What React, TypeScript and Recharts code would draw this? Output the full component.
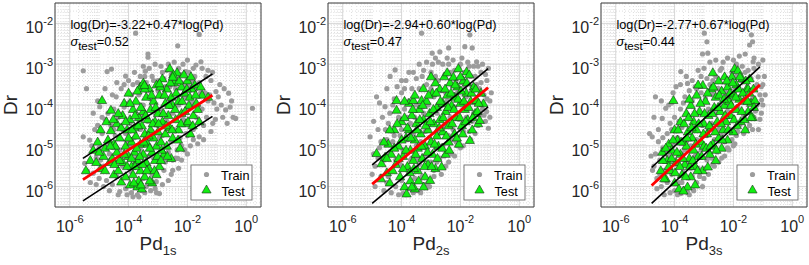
import React from 'react';
import { ScatterChart, Scatter, XAxis, YAxis, CartesianGrid, ReferenceArea } from 'recharts';

// every point: [log10(Pd), log10(Dr)]
type LP = [number, number];

const train1: LP[] = [
  [-5.54,-3.16],[-5.43,-3.6],[-5.54,-4.78],[-5.49,-5.43],[-5.4,-5.62],[-5.32,-4.86],[-5.2,-4.2],[-5.2,-5.67],[-5.1,-5.3],[-5.05,-4.5],[-5.0,-5.05],[-5.0,-5.8],
  [-4.98,-4.04],[-4.9,-4.7],[-4.85,-5.5],[-4.8,-4.35],[-4.75,-5.85],[-4.73,-3.18],[-4.7,-4.95],[-4.65,-5.2],[-4.6,-4.5],[-4.58,-3.12],[-4.55,-5.95],[-4.5,-4.1],[-4.5,-5.45],
  [-4.45,-4.75],[-4.42,-3.8],[-4.4,-5.75],[-4.35,-4.3],[-4.3,-6.12],[-4.3,-5.1],[-4.25,-3.6],[-4.2,-4.6],[-4.2,-5.5],[-4.15,-4.05],[-4.1,-3.29],[-4.1,-6.05],[-4.05,-4.9],[-4.0,-5.3],[-4.0,-3.95],
  [-3.95,-4.45],[-3.9,-6.15],[-3.9,-5.65],[-3.85,-3.5],[-3.8,-4.8],[-3.8,-5.95],[-3.76,-2.24],[-3.75,-4.2],[-3.7,-6.2],[-3.7,-5.45],[-3.65,-3.75],[-3.6,-5.05],[-3.6,-4.6],[-3.55,-6.1],[-3.5,-4.0],[-3.5,-5.8],
  [-3.45,-3.3],[-3.43,-3.17],[-3.4,-4.85],[-3.4,-6.0],[-3.35,-4.4],[-3.34,-2.75],[-3.34,-2.83],[-3.3,-5.25],[-3.25,-3.85],[-3.2,-5.7],[-3.2,-4.65],[-3.15,-3.4],[-3.1,-4.2],[-3.1,-6.05],[-3.06,-5.88],[-3.05,-5.0],[-3.0,-3.65],[-3.0,-4.5],
  [-2.95,-6.17],[-2.95,-5.4],[-2.9,-4.1],[-2.85,-3.2],[-2.85,-4.75],[-2.8,-5.6],[-2.75,-3.55],[-2.7,-4.4],[-2.65,-3.0],[-2.65,-5.15],[-2.6,-3.85],[-2.55,-4.9],[-2.55,-5.7],[-2.5,-5.35],[-2.5,-3.4],[-2.5,-4.2],
  [-2.45,-4.6],[-2.4,-3.6],[-2.35,-5.1],[-2.33,-2.55],[-2.33,-5.31],[-2.3,-3.1],[-2.3,-4.0],[-2.25,-4.8],[-2.2,-5.0],[-2.2,-3.45],[-2.15,-4.35],[-2.1,-3.8],[-2.05,-3.18],[-2.05,-4.7],[-2.0,-4.1],[-2.0,-5.2],
  [-1.95,-3.55],[-1.9,-4.5],[-1.85,-3.95],[-1.8,-4.85],[-1.75,-3.3],[-1.71,-3.02],[-1.7,-4.3],[-1.6,-2.27],[-1.6,-4.78],[-1.55,-3.7],[-1.54,-2.94],[-1.5,-4.1],[-1.45,-4.5],[-1.37,-3.3],[-1.3,-3.9],[-1.2,-3.4],[-1.14,-4.45],[-1.03,-3.67],[-1.0,-4.1],
  [-0.9,-3.5],[-0.8,-4.3],[-0.7,-4.12],[-0.6,-3.71],[-0.5,-3.9],[-0.45,-4.3],[-0.36,-4.33],[0.21,-4.08],
  [-5.3,-5.9],[-5.25,-5.0],[-5.15,-4.6],[-5.1,-5.95],[-5.05,-3.9],[-4.95,-5.35],[-4.9,-4.3],[-4.85,-6.0],[-4.8,-3.6],[-4.7,-4.2],[-4.65,-6.1],[-4.55,-3.75],[-4.5,-4.6],[-4.4,-3.45],[-4.35,-6.2],[-4.3,-4.55],[-4.25,-5.9],[-4.15,-3.5],[-4.1,-4.7],[-4.05,-6.2],[-4.0,-3.4],[-3.95,-5.0],[-3.9,-3.75],[-3.85,-6.25],[-3.8,-3.2],[-3.75,-5.3],[-3.7,-3.45],[-3.65,-6.25],[-3.6,-3.3],[-3.55,-4.3],[-3.5,-3.05],[-3.45,-6.15],[-3.4,-3.45],[-3.35,-5.5],[-3.3,-3.1],[-3.25,-6.1],[-3.2,-3.3],[-3.15,-5.3],[-3.1,-3.0],[-3.05,-6.15],[-3.0,-3.4],[-2.95,-4.8],[-2.9,-3.05],[-2.85,-5.95],[-2.8,-3.35],[-2.75,-5.4],[-2.7,-3.15],[-2.65,-5.85],[-2.6,-3.55],[-2.55,-3.25],[-2.5,-5.6],[-2.45,-2.95],[-2.4,-5.3],[-2.35,-3.4],[-2.3,-5.55],[-2.25,-3.25],[-2.2,-5.35],[-2.15,-3.0],[-2.1,-5.1],[-2.05,-3.55],[-2.0,-4.75],[-1.95,-3.2],[-1.9,-5.0],[-1.85,-3.4],[-1.8,-4.6],[-1.75,-4.0],[-1.7,-3.6],[-1.65,-4.95],[-1.6,-3.45],[-1.5,-3.1],[-1.45,-4.85],[-1.4,-3.7],[-1.35,-4.3],[-1.25,-3.75],[-1.2,-4.65],[-1.1,-3.95],[-1.05,-4.35],[-0.95,-3.8],[-0.85,-4.0],[-0.75,-3.6],[-0.65,-4.45],[-0.55,-4.05],[-1.3,-3.15],[-1.15,-3.2],[-2.0,-2.9],[-1.8,-3.1],
];

const test1: LP[] = [
  [-5.45,-5.6],[-5.3,-5.35],[-5.2,-5.1],[-5.05,-4.9],[-4.95,-5.55],[-4.9,-3.88],[-4.85,-5.25],[-4.8,-5.05],[-4.7,-4.85],[-4.65,-5.4],[-4.6,-4.12],[-4.6,-4.62],[-4.55,-5.3],[-4.5,-4.95],[-4.5,-5.7],
  [-4.4,-4.45],[-4.4,-5.15],[-4.35,-5.6],[-4.3,-4.8],[-4.25,-5.88],[-4.2,-4.25],[-4.2,-5.4],[-4.15,-3.95],[-4.1,-5.0],[-4.1,-5.75],[-4.05,-4.6],[-4.0,-3.7],[-4.0,-5.25],[-3.95,-4.35],[-3.95,-5.95],[-3.9,-4.9],[-3.9,-5.5],[-3.85,-4.1],[-3.85,-5.7],[-3.8,-4.55],[-3.8,-5.15],
  [-3.75,-3.9],[-3.75,-4.75],[-3.7,-5.35],[-3.7,-6.0],[-3.65,-4.3],[-3.65,-5.85],[-3.6,-3.55],[-3.6,-4.95],[-3.6,-5.6],[-3.55,-4.5],[-3.55,-6.05],[-3.5,-3.45],[-3.5,-4.15],[-3.5,-5.2],[-3.45,-4.7],[-3.45,-5.75],[-3.4,-3.8],[-3.4,-5.4],[-3.35,-4.35],[-3.35,-4.95],[-3.3,-3.6],[-3.3,-5.55],[-3.25,-4.1],[-3.25,-4.6],[-3.2,-5.15],[-3.2,-5.9],[-3.15,-3.9],[-3.15,-4.8],[-3.1,-4.4],[-3.1,-5.35],[-3.05,-3.5],[-3.05,-5.0],
  [-3.0,-4.2],[-3.0,-4.65],[-2.95,-3.75],[-2.95,-5.5],[-2.9,-4.9],[-2.85,-3.35],[-2.85,-4.4],[-2.8,-5.2],[-2.75,-3.95],[-2.75,-4.7],[-2.7,-3.6],[-2.7,-5.0],[-2.65,-4.25],[-2.6,-3.1],[-2.6,-4.55],[-2.55,-3.8],[-2.55,-5.3],[-2.5,-4.0],[-2.5,-4.8],[-2.45,-3.45],[-2.4,-4.35],[-2.35,-3.2],[-2.3,-3.9],[-2.3,-4.6],[-2.25,-5.05],[-2.2,-3.55],[-2.2,-4.2],
  [-2.1,-3.7],[-2.05,-4.45],[-2.0,-3.4],[-1.95,-4.0],[-1.9,-4.7],[-1.85,-3.6],[-1.8,-4.25],[-1.75,-3.5],[-1.7,-3.95],[-1.6,-4.4],[-1.5,-3.75],[-1.3,-3.8],
  [-4.45,-5.0],[-4.35,-4.2],[-4.3,-5.35],[-4.25,-4.55],[-4.15,-5.2],[-4.1,-4.4],[-4.05,-5.5],[-4.0,-4.8],[-3.95,-3.95],[-3.9,-5.3],[-3.88,-4.6],[-3.82,-5.9],[-3.78,-4.25],[-3.72,-5.05],[-3.68,-4.5],[-3.62,-5.25],[-3.58,-4.05],[-3.52,-5.45],[-3.48,-4.9],[-3.42,-4.25],[-3.38,-5.6],[-3.32,-4.75],[-3.28,-5.05],[-3.22,-3.75],[-3.18,-4.45],[-3.12,-5.6],[-3.08,-4.05],[-3.02,-5.25],[-2.98,-4.45],[-2.92,-3.55],[-2.88,-5.1],[-2.82,-4.2],[-2.78,-3.75],[-2.72,-4.5],[-2.68,-5.25],[-2.62,-4.0],[-2.58,-3.45],[-2.52,-4.6],[-2.48,-3.25],[-2.42,-4.1],[-2.38,-3.7],[-2.32,-4.85],[-2.28,-3.4],[-2.22,-4.45],[-2.18,-3.9],[-2.12,-3.25],[-2.08,-4.15],[-2.02,-3.6],[-1.98,-4.4],[-1.92,-3.8],[-1.88,-3.3],[-1.82,-4.5],[-1.72,-3.75],[-1.65,-4.1],[-1.55,-3.55],[-4.75,-4.4],[-4.8,-5.6],[-4.62,-5.0],[-4.52,-4.35],[-4.48,-5.45],[-5.1,-5.4],[-5.0,-5.15],[-4.95,-4.6],[-3.78,-5.5],[-3.58,-5.95],[-3.28,-5.85],[-3.05,-5.7],[-2.9,-5.35],[-3.7,-3.65],[-3.45,-3.6],[-2.95,-3.47],[-2.5,-3.31],[-3.46,-3.51],
];

const train2: LP[] = [
  [-5.07,-4.78],[-4.95,-5.2],[-4.9,-5.5],[-4.85,-3.8],[-4.8,-4.6],[-4.75,-5.05],[-4.7,-5.75],[-4.65,-4.3],[-4.6,-5.35],[-4.56,-4.04],[-4.5,-4.85],[-4.5,-5.9],
  [-4.45,-4.45],[-4.4,-5.2],[-4.39,-3.3],[-4.35,-5.6],[-4.3,-4.0],[-4.25,-4.75],[-4.22,-3.14],[-4.2,-6.0],[-4.15,-5.0],[-4.1,-4.3],[-4.05,-5.45],[-4.0,-3.7],[-4.0,-4.6],[-4.0,-5.85],
  [-3.95,-6.17],[-3.9,-5.15],[-3.9,-4.1],[-3.85,-3.4],[-3.8,-4.85],[-3.8,-5.6],[-3.75,-3.9],[-3.7,-4.45],[-3.7,-6.05],[-3.65,-5.3],[-3.6,-3.2],[-3.6,-4.7],[-3.55,-5.8],[-3.5,-4.0],[-3.5,-5.0],
  [-3.45,-4.4],[-3.45,-6.1],[-3.4,-3.6],[-3.4,-5.45],[-3.35,-4.9],[-3.32,-2.24],[-3.3,-3.3],[-3.3,-5.75],[-3.25,-4.2],[-3.2,-4.65],[-3.2,-5.25],[-3.15,-3.5],[-3.1,-5.9],[-3.1,-4.0],[-3.05,-4.8],[-3.0,-3.2],[-3.0,-5.4],
  [-2.96,-2.73],[-2.95,-4.45],[-2.9,-3.8],[-2.9,-5.6],[-2.85,-2.85],[-2.85,-5.05],[-2.8,-4.2],[-2.75,-3.4],[-2.75,-4.7],[-2.7,-5.3],[-2.65,-3.65],[-2.6,-4.0],[-2.6,-5.0],[-2.55,-4.5],[-2.5,-3.25],[-2.5,-5.5],
  [-2.45,-3.9],[-2.4,-4.75],[-2.4,-3.0],[-2.35,-4.3],[-2.3,-5.2],[-2.3,-3.5],[-2.25,-4.6],[-2.2,-3.15],[-2.2,-4.05],[-2.15,-4.9],[-2.1,-3.7],[-2.05,-4.35],[-2.0,-3.0],[-2.0,-5.05],
  [-1.95,-3.45],[-1.9,-4.1],[-1.9,-4.65],[-1.85,-2.57],[-1.85,-3.2],[-1.8,-3.8],[-1.75,-4.4],[-1.7,-3.05],[-1.68,-2.28],[-1.65,-4.85],[-1.6,-3.55],[-1.55,-4.2],[-1.5,-3.3],
  [-1.45,-2.94],[-1.45,-3.95],[-1.4,-4.5],[-1.35,-3.6],[-1.3,-3.2],[-1.25,-4.1],[-1.2,-3.75],[-1.15,-4.4],[-1.11,-4.16],[-1.1,-3.4],[-1.05,-4.57],[-1.0,-3.9],
  [-5.0,-5.7],[-4.95,-4.4],[-4.9,-6.0],[-4.8,-5.3],[-4.75,-3.95],[-4.7,-4.9],[-4.6,-6.1],[-4.55,-4.6],[-4.5,-3.6],[-4.45,-5.75],[-4.4,-4.2],[-4.35,-6.15],[-4.3,-4.9],[-4.25,-3.85],[-4.2,-5.35],[-4.15,-3.55],[-4.1,-6.2],[-4.05,-4.75],[-4.0,-3.4],[-3.95,-5.1],[-3.9,-3.6],[-3.85,-6.2],[-3.8,-4.3],[-3.75,-3.2],[-3.7,-5.35],[-3.65,-3.6],[-3.6,-6.15],[-3.55,-4.3],[-3.5,-3.35],[-3.45,-5.3],[-3.4,-3.0],[-3.35,-6.15],[-3.3,-4.05],[-3.25,-3.15],[-3.2,-5.95],[-3.15,-2.95],[-3.1,-4.5],[-3.05,-6.0],[-3.0,-3.6],[-2.95,-3.0],[-2.9,-5.75],[-2.85,-3.3],[-2.8,-5.4],[-2.75,-2.95],[-2.7,-4.0],[-2.65,-5.7],[-2.6,-3.0],[-2.55,-5.25],[-2.5,-3.7],[-2.45,-2.85],[-2.4,-5.4],[-2.35,-3.2],[-2.3,-4.85],[-2.25,-2.9],[-2.2,-5.25],[-2.15,-3.4],[-2.1,-5.0],[-2.05,-3.1],[-2.0,-4.6],[-1.95,-2.85],[-1.9,-5.0],[-1.85,-3.55],[-1.8,-4.3],[-1.75,-2.95],[-1.7,-4.65],[-1.65,-3.3],[-1.6,-4.4],[-1.55,-3.05],[-1.5,-4.7],[-1.45,-3.5],[-1.4,-3.05],[-1.35,-4.25],[-1.3,-3.45],[-1.25,-3.0],[-1.2,-4.25],[-1.15,-3.25],[-1.1,-3.85],[-1.05,-3.1],[-1.0,-4.3],[-0.95,-3.7],[-2.4,-2.6],[-2.7,-2.7],[-1.6,-2.6],
];

const test2: LP[] = [
  [-4.85,-5.18],[-4.68,-5.43],[-4.56,-5.27],[-4.5,-5.65],[-4.45,-4.95],[-4.4,-5.9],[-4.35,-5.2],
  [-4.25,-4.6],[-4.2,-5.45],[-4.17,-3.88],[-4.17,-4.12],[-4.1,-5.0],[-4.05,-5.75],[-4.0,-4.4],[-3.95,-5.25],[-3.9,-6.0],[-3.85,-4.8],[-3.83,-6.17],[-3.8,-5.5],
  [-3.75,-3.95],[-3.75,-4.6],[-3.7,-5.1],[-3.7,-5.85],[-3.65,-4.25],[-3.6,-5.35],[-3.6,-3.88],[-3.55,-4.85],[-3.55,-6.05],[-3.5,-4.45],[-3.45,-5.6],[-3.45,-5.05],[-3.4,-4.1],[-3.35,-4.7],[-3.32,-3.88],[-3.3,-5.3],
  [-3.26,-3.59],[-3.25,-4.35],[-3.2,-5.0],[-3.2,-5.75],[-3.15,-3.9],[-3.1,-4.6],[-3.1,-5.45],[-3.05,-4.2],[-3.03,-5.84],[-3.0,-4.9],[-2.95,-3.7],[-2.95,-5.2],[-2.9,-4.45],[-2.85,-3.45],[-2.85,-5.55],[-2.8,-4.05],[-2.8,-4.75],
  [-2.75,-5.0],[-2.7,-3.6],[-2.7,-4.35],[-2.64,-5.51],[-2.6,-3.95],[-2.6,-4.65],[-2.55,-3.3],[-2.5,-5.2],[-2.5,-4.15],[-2.45,-3.75],[-2.4,-4.5],[-2.4,-4.9],[-2.35,-3.45],[-2.3,-4.0],
  [-2.24,-3.31],[-2.2,-4.7],[-2.2,-3.8],[-2.15,-4.3],[-2.1,-3.55],[-2.07,-3.1],[-2.05,-4.95],[-2.0,-3.95],[-1.95,-4.5],[-1.9,-3.4],[-1.85,-4.1],[-1.8,-3.7],[-1.79,-3.18],
  [-1.75,-4.35],[-1.7,-3.25],[-1.68,-4.86],[-1.65,-3.9],[-1.6,-4.6],[-1.55,-3.55],[-1.5,-4.2],[-1.45,-3.88],[-1.4,-4.45],[-1.34,-4.37],[-1.3,-3.7],[-1.22,-3.96],
  [-4.6,-4.9],[-4.5,-5.3],[-4.4,-4.6],[-4.3,-5.6],[-4.25,-5.05],[-4.15,-4.45],[-4.1,-5.3],[-4.0,-4.85],[-3.95,-5.55],[-3.9,-4.3],[-3.85,-5.1],[-3.8,-4.55],[-3.72,-5.65],[-3.68,-4.8],[-3.62,-4.1],[-3.58,-5.55],[-3.52,-5.2],[-3.48,-4.6],[-3.42,-5.85],[-3.38,-4.35],[-3.32,-5.0],[-3.28,-4.0],[-3.22,-5.5],[-3.18,-4.5],[-3.12,-5.15],[-3.08,-3.75],[-3.02,-4.4],[-2.98,-5.5],[-2.92,-4.1],[-2.88,-4.95],[-2.82,-3.7],[-2.78,-5.3],[-2.72,-4.55],[-2.68,-3.9],[-2.62,-5.05],[-2.58,-4.3],[-2.52,-3.6],[-2.48,-4.75],[-2.42,-4.05],[-2.38,-5.1],[-2.32,-3.7],[-2.28,-4.45],[-2.22,-4.1],[-2.18,-3.5],[-2.12,-4.8],[-2.08,-3.85],[-2.02,-4.3],[-1.98,-3.65],[-1.92,-4.7],[-1.88,-3.9],[-1.82,-4.4],[-1.78,-3.45],[-1.72,-4.05],[-1.62,-3.7],[-1.58,-4.3],[-1.48,-3.6],[-1.42,-4.15],[-1.38,-3.95],[-3.9,-3.9],[-3.55,-3.75],[-3.0,-3.3],[-2.45,-3.2],[-2.0,-3.3],[-4.7,-5.8],[-3.65,-6.0],[-3.25,-6.0],
];

const train3: LP[] = [
  [-4.76,-4.78],[-4.7,-5.5],[-4.65,-3.8],[-4.65,-5.2],[-4.6,-5.8],[-4.55,-4.9],[-4.5,-5.35],[-4.45,-6.0],[-4.42,-4.33],[-4.4,-5.05],[-4.35,-5.6],[-4.3,-4.08],
  [-4.25,-4.7],[-4.25,-5.9],[-4.2,-5.25],[-4.15,-4.45],[-4.1,-5.7],[-4.1,-3.95],[-4.05,-5.0],[-4.0,-6.1],[-4.0,-4.3],[-3.95,-5.45],[-3.9,-4.8],[-3.85,-5.9],[-3.8,-4.1],[-3.79,-3.18],[-3.79,-6.17],
  [-3.75,-5.2],[-3.75,-4.55],[-3.7,-5.65],[-3.65,-3.8],[-3.65,-6.05],[-3.6,-4.9],[-3.56,-3.47],[-3.55,-5.4],[-3.5,-4.3],[-3.5,-6.2],[-3.45,-5.0],[-3.4,-3.9],[-3.4,-5.75],[-3.35,-4.6],[-3.3,-5.25],
  [-3.25,-3.6],[-3.25,-4.85],[-3.2,-5.55],[-3.15,-4.2],[-3.1,-5.1],[-3.1,-3.3],[-3.05,-4.5],[-3.0,-5.8],[-2.99,-2.24],[-2.95,-3.85],[-2.9,-4.75],[-2.9,-5.35],[-2.87,-2.73],[-2.85,-4.1],[-2.8,-5.0],[-2.8,-3.5],
  [-2.75,-4.45],[-2.7,-5.45],[-2.7,-3.75],[-2.65,-4.85],[-2.6,-3.3],[-2.6,-4.2],[-2.55,-5.15],[-2.5,-3.6],[-2.5,-4.6],[-2.45,-4.0],[-2.4,-5.3],[-2.4,-3.1],[-2.35,-4.4],[-2.3,-4.9],
  [-2.25,-3.45],[-2.2,-4.15],[-2.2,-5.05],[-2.15,-3.8],[-2.1,-4.6],[-2.05,-3.2],[-2.0,-4.3],[-2.0,-5.0],[-1.95,-3.65],[-1.9,-4.75],[-1.9,-3.0],[-1.85,-4.05],[-1.8,-4.5],
  [-1.75,-3.4],[-1.7,-3.9],[-1.65,-4.7],[-1.6,-3.2],[-1.55,-4.2],[-1.5,-3.6],[-1.45,-2.53],[-1.45,-4.5],[-1.39,-2.28],[-1.35,-3.85],[-1.33,-2.94],[-1.3,-3.1],[-1.3,-4.3],[-1.25,-3.6],[-1.2,-4.0],[-1.16,-3.31],[-1.15,-4.6],[-1.1,-3.75],[-1.04,-3.88],[-1.0,-3.5],[-1.05,-4.2],
  [-4.75,-5.6],[-4.7,-4.3],[-4.6,-6.05],[-4.55,-4.6],[-4.5,-5.7],[-4.45,-3.9],[-4.4,-4.8],[-4.35,-6.2],[-4.3,-5.2],[-4.2,-4.0],[-4.15,-6.15],[-4.1,-4.6],[-4.05,-3.7],[-4.0,-5.4],[-3.95,-3.55],[-3.9,-6.2],[-3.85,-4.4],[-3.8,-3.5],[-3.75,-5.9],[-3.7,-3.95],[-3.65,-5.1],[-3.6,-3.3],[-3.55,-6.15],[-3.5,-3.65],[-3.45,-5.55],[-3.4,-3.4],[-3.35,-6.1],[-3.3,-3.55],[-3.25,-5.9],[-3.2,-3.15],[-3.15,-5.75],[-3.1,-3.7],[-3.05,-6.0],[-3.0,-3.1],[-2.95,-5.55],[-2.9,-3.35],[-2.85,-5.7],[-2.8,-2.95],[-2.75,-5.3],[-2.7,-3.4],[-2.65,-5.5],[-2.6,-2.9],[-2.55,-3.6],[-2.5,-5.4],[-2.45,-3.15],[-2.4,-4.75],[-2.35,-2.95],[-2.3,-5.25],[-2.25,-3.7],[-2.2,-2.85],[-2.15,-5.1],[-2.1,-3.35],[-2.05,-4.85],[-2.0,-2.9],[-1.95,-4.95],[-1.9,-3.3],[-1.85,-4.65],[-1.8,-2.8],[-1.75,-4.45],[-1.7,-3.05],[-1.65,-4.25],[-1.6,-2.75],[-1.55,-4.6],[-1.5,-3.15],[-1.45,-3.9],[-1.4,-3.35],[-1.35,-4.6],[-1.3,-2.85],[-1.25,-4.15],[-1.2,-3.5],[-1.15,-3.0],[-1.1,-4.35],[-1.05,-3.55],[-1.0,-4.0],[-0.95,-3.3],[-0.92,-3.75],[-1.0,-2.9],[-2.9,-2.45],[-3.05,-2.75],[-1.35,-2.45],[-4.85,-4.7],[-4.8,-5.25],
];

const test3: LP[] = [
  [-4.47,-5.6],[-4.42,-5.15],[-4.3,-5.8],[-4.25,-5.35],[-4.2,-4.95],[-4.15,-5.6],[-4.1,-5.1],[-4.04,-3.88],[-4.0,-4.6],[-4.0,-5.9],
  [-3.95,-5.4],[-3.9,-4.85],[-3.85,-6.05],[-3.8,-5.2],[-3.8,-4.4],[-3.75,-5.7],[-3.7,-4.9],[-3.65,-5.45],[-3.6,-4.2],[-3.6,-5.0],[-3.56,-6.0],[-3.55,-4.65],[-3.5,-5.3],
  [-3.45,-4.0],[-3.45,-5.75],[-3.4,-4.8],[-3.35,-5.1],[-3.35,-4.4],[-3.3,-5.5],[-3.25,-3.75],[-3.25,-4.6],[-3.2,-5.25],[-3.15,-4.15],[-3.1,-4.9],[-3.05,-5.6],[-3.04,-3.51],[-3.0,-4.45],[-3.0,-5.0],
  [-2.95,-3.9],[-2.9,-4.7],[-2.87,-5.51],[-2.85,-4.25],[-2.8,-5.2],[-2.75,-3.6],[-2.75,-4.55],[-2.7,-4.95],[-2.65,-4.05],[-2.6,-5.35],[-2.6,-3.8],[-2.55,-4.4],[-2.5,-4.8],[-2.5,-3.4],
  [-2.45,-4.15],[-2.4,-3.65],[-2.4,-5.05],[-2.35,-4.6],[-2.3,-3.3],[-2.3,-4.0],[-2.25,-4.4],[-2.2,-3.55],[-2.2,-4.85],[-2.15,-3.9],[-2.1,-4.25],[-2.05,-3.3],[-2.0,-4.65],[-2.0,-3.75],
  [-1.96,-3.1],[-1.9,-4.1],[-1.9,-3.5],[-1.85,-3.15],[-1.8,-3.85],[-1.75,-4.4],[-1.7,-3.35],[-1.65,-3.9],[-1.6,-4.6],[-1.55,-3.6],[-1.5,-3.6],[-1.5,-4.15],[-1.45,-3.35],[-1.4,-3.95],[-1.35,-4.3],[-1.27,-3.88],
  [-4.4,-5.35],[-4.35,-5.8],[-4.3,-5.05],[-4.2,-5.5],[-4.1,-5.3],[-4.05,-4.85],[-3.98,-5.65],[-3.92,-5.15],[-3.88,-4.6],[-3.82,-5.5],[-3.78,-4.9],[-3.72,-5.3],[-3.68,-4.45],[-3.62,-5.75],[-3.58,-4.8],[-3.52,-4.3],[-3.48,-5.5],[-3.42,-4.55],[-3.38,-5.35],[-3.32,-4.2],[-3.28,-4.95],[-3.22,-5.6],[-3.18,-4.45],[-3.12,-3.95],[-3.08,-5.25],[-3.02,-4.7],[-2.98,-4.2],[-2.92,-5.05],[-2.88,-3.7],[-2.82,-4.5],[-2.78,-5.0],[-2.72,-4.2],[-2.68,-3.55],[-2.62,-4.65],[-2.58,-5.1],[-2.52,-4.05],[-2.48,-3.75],[-2.42,-4.45],[-2.38,-4.85],[-2.32,-3.85],[-2.28,-4.25],[-2.22,-3.4],[-2.18,-4.6],[-2.12,-3.7],[-2.08,-4.0],[-2.02,-3.45],[-1.98,-4.35],[-1.92,-3.8],[-1.88,-4.5],[-1.82,-3.6],[-1.78,-3.3],[-1.72,-4.15],[-1.68,-3.7],[-1.62,-4.35],[-1.58,-3.4],[-1.52,-3.9],[-1.45,-3.7],[-1.4,-4.3],[-1.32,-3.6],[-1.3,-4.05],[-3.5,-3.85],[-3.2,-3.5],[-2.7,-3.2],[-3.7,-6.1],[-3.3,-5.95],
];

// fit parameters (as printed on the chart)
const subscripts = ['1s', '2s', '3s'];
const intercepts = [-3.22, -2.94, -2.77];
const slopes = [0.47, 0.6, 0.67];
const sigmas = [0.52, 0.47, 0.44];
const fitStartLogPd = [-5.55, -5.0, -4.78];
const fitEndLogPd = [-1.15, -1.06, -1.1];

const xMajorExps = [-6, -4, -2, 0];
const yMajorExps = [-6, -5, -4, -3, -2];
const xDomainExps = [-6.5, 0.5];
const yDomainExps = [-6.5, -1.5];

const FONT = "'Liberation Sans', Arial, Helvetica, sans-serif";
const TXT = '#262626';

const xDom = [Math.pow(10, xDomainExps[0]), Math.pow(10, xDomainExps[1])];
const yDom = [Math.pow(10, yDomainExps[0]), Math.pow(10, yDomainExps[1])];
const xMajor = xMajorExps.map((e) => Math.pow(10, e));
const yMajor = yMajorExps.map((e) => Math.pow(10, e));

const minorTicks = (lo: number, hi: number) => {
  const out: number[] = [];
  for (let n = Math.floor(lo); n <= Math.ceil(hi); n++) {
    for (let k = 1; k <= 9; k++) {
      const v = k * Math.pow(10, n);
      const l = Math.log10(v);
      if (l > lo + 1e-9 && l < hi - 1e-9) out.push(v);
    }
  }
  return out;
};
const xMinor = minorTicks(xDomainExps[0], xDomainExps[1]);
const yMinor = minorTicks(yDomainExps[0], yDomainExps[1]);

const toPts = (arr: LP[]) => arr.map(([a, b]) => ({ x: Math.pow(10, a), y: Math.pow(10, b) }));

const expLabel = (v: number) => String(Math.round(Math.log10(v)));

const XTick = (props: any) => {
  const { x, y, payload } = props;
  return (
    <text x={x} y={y + 25} textAnchor="middle" fontSize={16} fill={TXT} fontFamily={FONT}>
      10<tspan dy={-9} fontSize={11}>{expLabel(payload.value)}</tspan>
    </text>
  );
};

const YTick = (props: any) => {
  const { x, y, payload } = props;
  return (
    <text x={x - 2} y={y + 10} textAnchor="end" fontSize={16} fill={TXT} fontFamily={FONT}>
      10<tspan dy={-8} fontSize={11}>{expLabel(payload.value)}</tspan>
    </text>
  );
};

const Dot = (p: any) => <circle cx={p.cx} cy={p.cy} r={2.6} fill="#9c9c9c" />;
const Tri = (p: any) => (
  <polygon
    points={`${p.cx},${p.cy - 4.6} ${p.cx - 4.6},${p.cy + 3.4} ${p.cx + 4.6},${p.cy + 3.4}`}
    fill="#12ee12"
    stroke="#1c301c"
    strokeWidth={0.6}
  />
);
const NoMark = () => <g />;

const PW = 273;
const PH = 265;
const PLOT_L = 55;
const PLOT_R = 261;
const PLOT_T = 3;
const PLOT_B = 207;

function Panel({ i }: { i: number }) {
  const train = toPts([train1, train2, train3][i]);
  const test = toPts([test1, test2, test3][i]);
  const a = intercepts[i];
  const b = slopes[i];
  const s = sigmas[i];
  const x0 = fitStartLogPd[i];
  const x1 = fitEndLogPd[i];
  const fit = (off: number) => [
    { x: Math.pow(10, x0), y: Math.pow(10, a + b * x0 + off) },
    { x: Math.pow(10, x1), y: Math.pow(10, a + b * x1 + off) },
  ];
  const eq = `log(Dr)=${a < 0 ? '-' : ''}${Math.abs(a).toFixed(2)}+${b.toFixed(2)}*log(Pd)`;
  const lgX = PLOT_R - 9 - 61;
  const lgY = PLOT_B - 7 - 35;
  return (
    <div style={{ position: 'absolute', left: i * PW, top: 0, width: PW, height: PH }}>
      <ScatterChart width={PW} height={PH} margin={{ top: PLOT_T, right: PW - PLOT_R, bottom: 0, left: 0 }}>
        <XAxis xAxisId="xm" dataKey="x" type="number" scale="log" domain={xDom} ticks={xMinor} allowDataOverflow hide interval={0} />
        <YAxis yAxisId="ym" dataKey="y" type="number" scale="log" domain={yDom} ticks={yMinor} allowDataOverflow hide interval={0} />
        <XAxis
          xAxisId="x"
          dataKey="x"
          type="number"
          scale="log"
          domain={xDom}
          ticks={xMajor}
          allowDataOverflow
          interval={0}
          height={PH - PLOT_B}
          tickSize={0}
          tickMargin={0}
          tickLine={false}
          axisLine={false}
          tick={(p: any) => <XTick {...p} />}
        />
        <YAxis
          yAxisId="y"
          dataKey="y"
          type="number"
          scale="log"
          domain={yDom}
          ticks={yMajor}
          allowDataOverflow
          interval={0}
          width={PLOT_L}
          tickSize={0}
          tickMargin={0}
          tickLine={false}
          axisLine={false}
          tick={(p: any) => <YTick {...p} />}
        />
        <CartesianGrid xAxisId="xm" yAxisId="ym" stroke="#dedede" strokeDasharray="1 2" />
        <CartesianGrid xAxisId="x" yAxisId="y" stroke="#d8d8d8" />
        <Scatter name="Train" xAxisId="x" yAxisId="y" data={train} shape={Dot} isAnimationActive={false} />
        <Scatter name="Test" xAxisId="x" yAxisId="y" data={test} shape={Tri} isAnimationActive={false} />
        <Scatter xAxisId="x" yAxisId="y" data={fit(s)} shape={NoMark} line={{ stroke: '#000', strokeWidth: 1.6 }} isAnimationActive={false} legendType="none" />
        <Scatter xAxisId="x" yAxisId="y" data={fit(-s)} shape={NoMark} line={{ stroke: '#000', strokeWidth: 1.6 }} isAnimationActive={false} legendType="none" />
        <Scatter xAxisId="x" yAxisId="y" data={fit(0)} shape={NoMark} line={{ stroke: '#ff0000', strokeWidth: 2.8 }} isAnimationActive={false} legendType="none" />
        <ReferenceArea
          xAxisId="x"
          yAxisId="y"
          x1={xDom[0]}
          x2={xDom[1]}
          y1={yDom[0]}
          y2={yDom[1]}
          fill="none"
          fillOpacity={0}
          stroke="#3c3c3c"
          strokeWidth={0.9}
          ifOverflow="visible"
        />
      </ScatterChart>
      <svg
        width={PW}
        height={PH}
        style={{ position: 'absolute', left: 0, top: 0, pointerEvents: 'none' }}
        fontFamily={FONT}
      >
        <text transform={`translate(17,${(PLOT_T + PLOT_B) / 2}) rotate(-90)`} textAnchor="middle" fontSize={19} fill={TXT}>
          Dr
        </text>
        <text x={(PLOT_L + PLOT_R) / 2} y={250} textAnchor="middle" fontSize={19} fill={TXT}>
          Pd<tspan dy={5} fontSize={13}>{subscripts[i]}</tspan>
        </text>
        <text x={PLOT_L + 15.5} y={28.5} fontSize={12.7} fill="#000">
          {eq}
        </text>
        <text x={PLOT_L + 15.5} y={46} fontSize={12.7} fill="#000">
          <tspan fontStyle="italic">σ</tspan>
          <tspan dy={4} fontSize={11.5}>test</tspan>
          <tspan dy={-4}>={s.toFixed(2)}</tspan>
        </text>
        <rect x={lgX} y={lgY} width={61} height={35} fill="#fff" stroke="#6a6a6a" strokeWidth={0.9} />
        <circle cx={lgX + 15.5} cy={lgY + 9.5} r={2.6} fill="#9c9c9c" />
        <text x={lgX + 30} y={lgY + 14.5} fontSize={12.7} fill="#000">Train</text>
        <polygon
          points={`${lgX + 15.5},${lgY + 20} ${lgX + 10.9},${lgY + 28} ${lgX + 20.1},${lgY + 28}`}
          fill="#12ee12"
          stroke="#1c301c"
          strokeWidth={0.6}
        />
        <text x={lgX + 30.5} y={lgY + 30.5} fontSize={12.7} fill="#000">Test</text>
      </svg>
    </div>
  );
}

export default function App() {
  return (
    <div style={{ position: 'relative', width: 809, height: 265, background: '#fff', overflow: 'hidden' }}>
      <style>{'body{margin:0;background:#fff}'}</style>
      {[0, 1, 2].map((i) => (
        <Panel key={i} i={i} />
      ))}
    </div>
  );
}
